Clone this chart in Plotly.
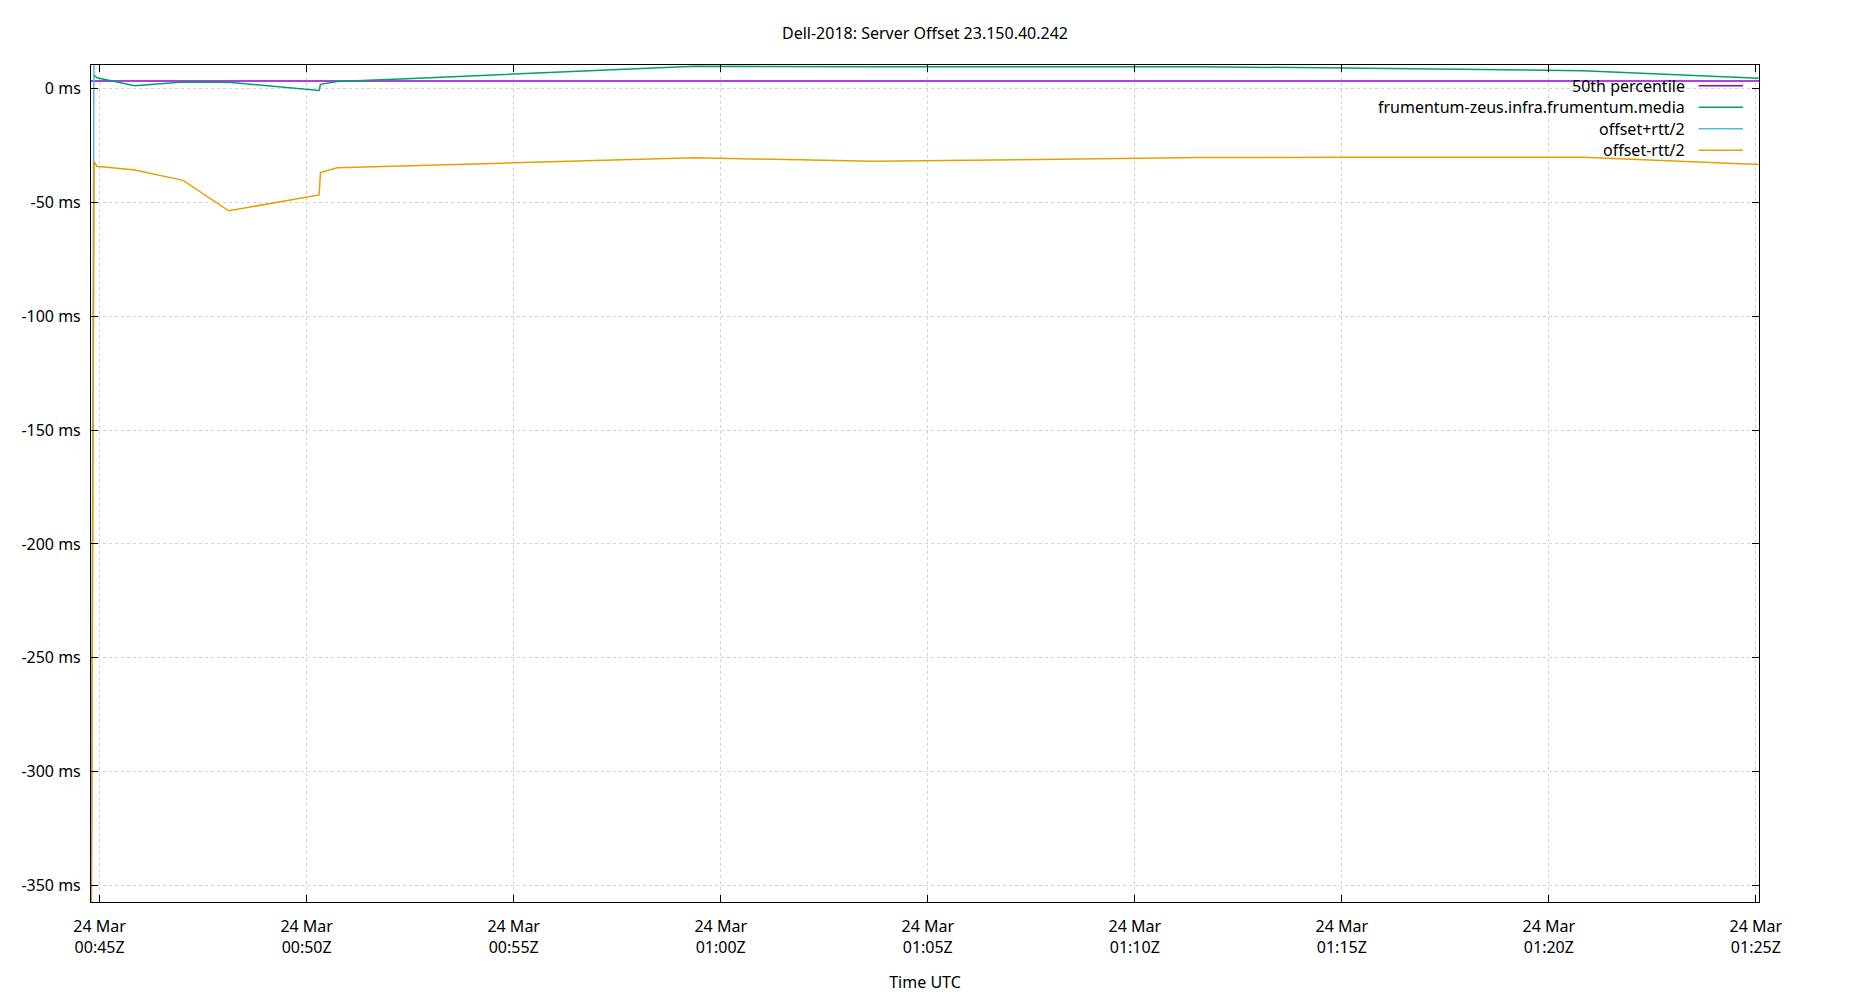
import plotly.graph_objects as go

# ---------------- data ----------------
times = [
    "2024-03-24 00:44:48", "2024-03-24 00:44:52", "2024-03-24 00:44:56",
    "2024-03-24 00:45:51", "2024-03-24 00:47:01", "2024-03-24 00:48:07",
    "2024-03-24 00:50:18", "2024-03-24 00:50:20", "2024-03-24 00:50:44",
    "2024-03-24 00:52:16", "2024-03-24 00:55:01", "2024-03-24 00:59:22",
    "2024-03-24 01:03:40", "2024-03-24 01:09:09", "2024-03-24 01:11:34",
    "2024-03-24 01:15:04", "2024-03-24 01:20:49", "2024-03-24 01:25:04",
]
offset_ms = [None, 6.1, 4.9, 1.4, 3.0, 2.9, -0.7, 2.0, 3.2, 4.4, 6.6, 10.0,
             9.7, 9.8, 9.7, 9.2, 8.0, 4.7]
offset_plus_rtt_ms = [-360.0, 44.2, 43.8, 38.5, 46.2, 59.4, 45.2, 40.8, 41.1,
                      42.8, 45.7, 50.3, 51.2, 50.3, 49.6, 48.5, 46.0, 42.6]
offset_minus_rtt_ms = [-357.4, -32.0, -34.0, -35.7, -40.2, -53.6, -46.6, -36.8,
                       -34.7, -34.0, -32.5, -30.3, -31.8, -30.7, -30.2, -30.1,
                       -30.0, -33.2]
p50_ms = 3.5

series_names = ["50th percentile", "frumentum-zeus.infra.frumentum.media",
                "offset+rtt/2", "offset-rtt/2"]
series_colors = ["#9400d3", "#009e73", "#56b4e9", "#e69f00"]

y_tick_vals = [0, -50, -100, -150, -200, -250, -300, -350]
y_tick_text = ["0 ms", "-50 ms", "-100 ms", "-150 ms", "-200 ms", "-250 ms",
               "-300 ms", "-350 ms"]
x_range = ["2024-03-24 00:44:47.5", "2024-03-24 01:25:04.5"]
y_range = [-357.4, 10.5]

title_text = "Dell-2018: Server Offset 23.150.40.242"
x_title = "Time UTC"

FONT = "Noto Sans"
W, H = 1850, 1000

# ---------------- figure ----------------
fig = go.Figure()
fig.add_trace(go.Scatter(x=[x_range[0], x_range[1]], y=[p50_ms, p50_ms],
                         mode="lines", name=series_names[0],
                         line=dict(color=series_colors[0], width=1.5)))
fig.add_trace(go.Scatter(x=times, y=offset_ms, mode="lines", name=series_names[1],
                         line=dict(color=series_colors[1], width=1.5)))
fig.add_trace(go.Scatter(x=times, y=offset_plus_rtt_ms, mode="lines",
                         name=series_names[2],
                         line=dict(color=series_colors[2], width=1.5)))
fig.add_trace(go.Scatter(x=times, y=offset_minus_rtt_ms, mode="lines",
                         name=series_names[3],
                         line=dict(color=series_colors[3], width=1.5)))

# gnuplot-style legend: text right-aligned, line sample on the right
leg_y0 = 0.9751
leg_step = 0.0257
for i, (nm, col) in enumerate(zip(series_names, series_colors)):
    yy = leg_y0 - i * leg_step
    fig.add_annotation(xref="paper", yref="paper", x=0.9568, y=yy,
                       xanchor="right", yanchor="middle", text=nm,
                       showarrow=False, font=dict(family=FONT, size=16, color="#000"))
    fig.add_shape(type="line", xref="paper", yref="paper", x0=0.9638, x1=0.9904,
                  y0=yy, y1=yy, line=dict(color=col, width=1.5))

axis_common = dict(
    showline=True, linecolor="#000", linewidth=1, mirror="ticks",
    ticks="inside", ticklen=7, tickcolor="#000", tickwidth=1,
    showgrid=True, gridcolor="#d3d3d3", griddash="dot", gridwidth=1,
    zeroline=False, tickfont=dict(family=FONT, size=16, color="#000"),
)

fig.update_xaxes(
    type="date", range=x_range, tick0="2024-03-24 00:45:00", dtick=300000,
    tickformat="%d %b<br>%H:%MZ", ticklabelstandoff=10,
    title=dict(text=x_title, font=dict(family=FONT, size=16, color="#000"),
               standoff=19),
    **axis_common,
)
fig.update_yaxes(
    range=y_range, tickmode="array", tickvals=y_tick_vals, ticktext=y_tick_text,
    ticklabelstandoff=6, **axis_common,
)

fig.update_layout(
    width=W, height=H,
    margin=dict(l=91, r=91, t=65, b=93),
    paper_bgcolor="white", plot_bgcolor="white",
    showlegend=False,
    font=dict(family=FONT, size=16, color="#000"),
    title=dict(text=title_text, x=0.5, xanchor="center", y=1 - 33 / H,
               yanchor="middle", yref="container",
               font=dict(family=FONT, size=16, color="#000")),
)

fig.write_html(
    "out.html",
    config={"displayModeBar": False},
    post_script="document.body.style.margin='0';document.body.style.overflow='hidden';",
)
